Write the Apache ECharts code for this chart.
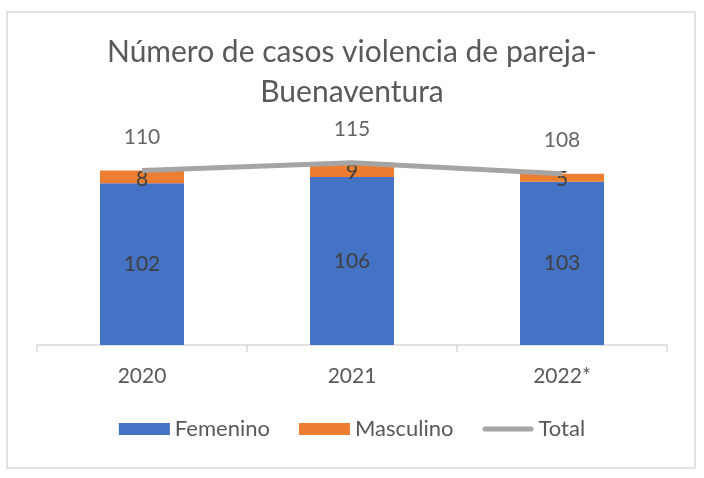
<!DOCTYPE html>
<html>
<head>
<meta charset="utf-8">
<script src="https://cdn.jsdelivr.net/npm/echarts@6/dist/echarts.min.js"></script>
<style>html,body{margin:0;padding:0;background:#fff;}#c{width:704px;height:478px;}</style>
</head>
<body>
<div id="c"></div>
<script>
var categories = ['2020', '2021', '2022*'];
var femenino = [102, 106, 103];
var masculino = [8, 9, 5];
var total = [110, 115, 108];
var titleLines = ['Número de casos violencia de pareja-', 'Buenaventura'];

var FONT = 'Lato';
var chart = echarts.init(document.getElementById('c'), null, {renderer: 'canvas'});
chart.setOption({
  animation: false,
  backgroundColor: '#fff',
  textStyle: {fontFamily: FONT},
  title: {
    text: titleLines.join('\n'),
    left: 'center',
    top: 27,
    textStyle: {fontFamily: FONT, fontSize: 30, fontWeight: 'normal', color: '#595959', lineHeight: 40}
  },
  graphic: [{
    type: 'rect',
    shape: {x: 7, y: 12, width: 688, height: 456},
    style: {fill: 'none', stroke: '#D9D9D9', lineWidth: 1.5},
    silent: true
  }],
  legend: {
    top: 413,
    left: 'center',
    itemWidth: 51,
    itemHeight: 12,
    itemGap: 29,
    textStyle: {fontFamily: FONT, fontSize: 22, color: '#595959'},
    data: [
      {name: 'Femenino', icon: 'rect'},
      {name: 'Masculino', icon: 'rect'},
      {name: 'Total', icon: 'path://M0,0 L0,0 M2.5,3.5 L48.5,3.5 A2.5,2.5 0 0 1 48.5,8.5 L2.5,8.5 A2.5,2.5 0 0 1 2.5,3.5 Z M51,12 L51,12', itemStyle: {color: '#A5A5A5'}}
    ]
  },
  grid: {left: 37, right: 37, top: 123, bottom: 133},
  xAxis: {
    type: 'category',
    data: categories,
    axisLine: {lineStyle: {color: '#D9D9D9', width: 1.5}},
    axisTick: {show: true, length: 7, lineStyle: {color: '#D9D9D9', width: 1.5}},
    axisLabel: {fontFamily: FONT, fontSize: 21, color: '#595959', margin: 21}
  },
  yAxis: {
    type: 'value',
    min: 0,
    max: 140,
    interval: 20,
    show: false,
    splitLine: {show: false}
  },
  series: [
    {
      name: 'Femenino',
      type: 'bar',
      stack: 'a',
      data: femenino,
      barWidth: 84,
      itemStyle: {color: '#4472C4'},
      label: {show: true, position: 'inside', fontFamily: FONT, fontSize: 21, color: '#404040'}
    },
    {
      name: 'Masculino',
      type: 'bar',
      stack: 'a',
      data: masculino,
      barWidth: 84,
      itemStyle: {color: '#ED7D31'},
      label: {show: true, position: 'inside', offset: [0, 2], fontFamily: FONT, fontSize: 21, color: '#404040'}
    },
    {
      name: 'Total',
      type: 'line',
      data: total,
      symbol: 'none',
      itemStyle: {color: '#A5A5A5'},
      lineStyle: {color: '#A5A5A5', width: 5}
    },
    {
      name: 'TotalLabels',
      type: 'scatter',
      data: total,
      symbolSize: 0,
      itemStyle: {color: 'rgba(0,0,0,0)'},
      z: 6,
      label: {show: true, position: 'top', distance: 23, fontFamily: FONT, fontSize: 21, color: '#404040'}
    }
  ]
});
</script>
</body>
</html>
